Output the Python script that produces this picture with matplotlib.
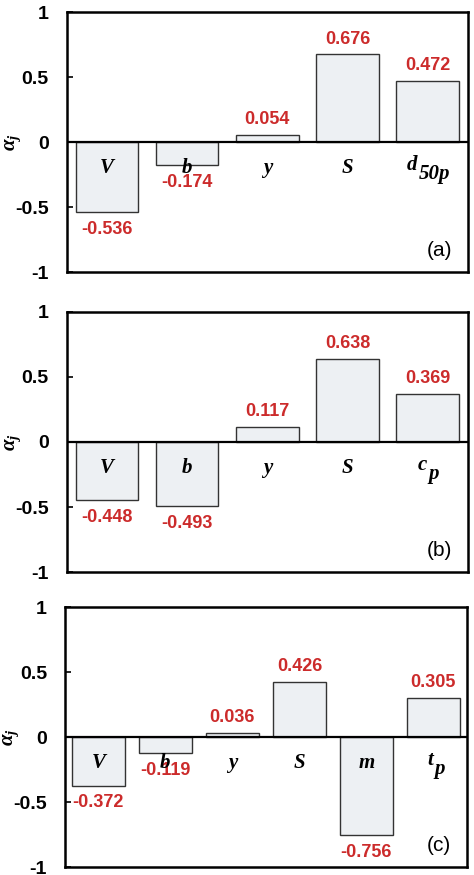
import numpy as np
import matplotlib
matplotlib.use('Agg')
import matplotlib.pyplot as plt

plt.rcParams['font.family'] = ['Liberation Sans', 'DejaVu Sans']
plt.rcParams['mathtext.fontset'] = 'custom'
plt.rcParams['mathtext.it'] = 'Liberation Serif:italic:bold'
plt.rcParams['mathtext.rm'] = 'Liberation Serif:bold'

# sensitivity coefficients for each panel (label "x_sub" -> x with subscript)
labels_a = ['V', 'b', 'y', 'S', 'd_50p']
values_a = [-0.536, -0.174, 0.054, 0.676, 0.472]

labels_b = ['V', 'b', 'y', 'S', 'c_p']
values_b = [-0.448, -0.493, 0.117, 0.638, 0.369]

labels_c = ['V', 'b', 'y', 'S', 'm', 't_p']
values_c = [-0.372, -0.119, 0.036, 0.426, -0.756, 0.305]

panels = [
    (labels_a, values_a, '(a)', [0.141, 0.689, 0.846, 0.297]),
    (labels_b, values_b, '(b)', [0.141, 0.346, 0.846, 0.298]),
    (labels_c, values_c, '(c)', [0.137, 0.009, 0.848, 0.297]),
]

red = '#cc2b2b'
serif = dict(family='Liberation Serif', style='italic', weight='bold')
fig = plt.figure(figsize=(4.74, 8.75), dpi=100)

for labels, values, tag, rect in panels:
    ax = fig.add_axes(rect)
    x = np.arange(len(values))
    ax.bar(x, values, width=0.78, color='#edf0f3', edgecolor='#333333', linewidth=1.0, zorder=2)
    ax.axhline(0, color='black', linewidth=1.6, zorder=3)
    for xi, v, lab in zip(x, values, labels):
        off = 11 if v > 0 else -12.5
        ax.annotate(f'{v:.3f}', (xi, v), xytext=(0, off), textcoords='offset points',
                    ha='center', va='center', color=red, fontsize=13, fontweight='bold', zorder=4)
        if '_' in lab:
            main, sub = lab.split('_')
            # rough centring of letter + subscript group
            dx = -7.5 * len(sub) / 2 + 7.0 / 2
            t = ax.annotate(main, (xi, -0.2), xytext=(dx, 2), textcoords='offset points',
                            ha='right', va='center', fontsize=15, zorder=4, **serif)
            ax.annotate(sub, (1, 0.5), xycoords=t, xytext=(1, -6), textcoords='offset points',
                        ha='left', va='center', fontsize=15, zorder=4, **serif)
        else:
            ax.text(xi, -0.2, lab, ha='center', va='center', fontsize=15, zorder=4, **serif)
    ax.set_xlim(-0.5, len(values) - 0.5)
    ax.set_ylim(-1, 1)
    ax.set_yticks([-1, -0.5, 0, 0.5, 1])
    ax.set_yticklabels(['-1', '-0.5', '0', '0.5', '1'], fontsize=14, fontweight='bold')
    ax.tick_params(axis='y', direction='in', length=4, width=1.2, pad=13)
    ax.set_xticks([])
    for s in ax.spines.values():
        s.set_linewidth(1.8)
    ax.set_ylabel(r'$\alpha_j$', fontsize=15, labelpad=0)
    ax.yaxis.set_label_coords(-0.11, 0.5)
    ax.text(0.93, 0.085, tag, transform=ax.transAxes, ha='center', va='center', fontsize=15)

fig.savefig('out.png', dpi=100)
